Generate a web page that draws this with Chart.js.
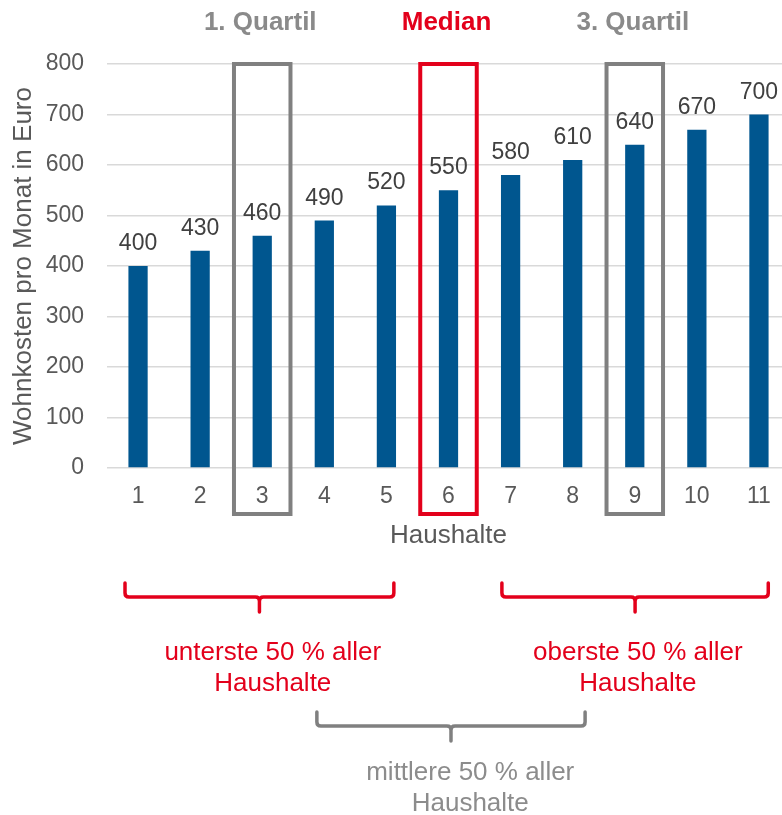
<!DOCTYPE html>
<html>
<head>
<meta charset="utf-8">
<script src="https://cdn.jsdelivr.net/npm/chart.js@4"></script>
<style>
  html, body { margin: 0; padding: 0; background: #fff; overflow: hidden; }
  #wrap { width: 782px; height: 815px; overflow: hidden; }
</style>
</head>
<body>
<div id="wrap"><canvas id="c" width="800" height="815"></canvas></div>
<script>
// Haushalte 1..11 and their monthly housing costs
const households = ['1', '2', '3', '4', '5', '6', '7', '8', '9', '10', '11'];
const costs = [400, 430, 460, 490, 520, 550, 580, 610, 640, 670, 700];
const yTicks = [0, 100, 200, 300, 400, 500, 600, 700, 800];

// highlighted households (index into households) with their heading
const markers = [
  { index: 2, label: '1. Quartil', color: '#808080', text: '#8a8a8a' },
  { index: 5, label: 'Median', color: '#e3001b', text: '#e3001b' },
  { index: 8, label: '3. Quartil', color: '#808080', text: '#8a8a8a' }
];

// curly brackets below the axis: span and caption anchor in category positions (0-based)
const brackets = [
  { from: -0.21, to: 4.12, textAt: 2.17, color: '#e3001b', lines: ['unterste 50 % aller', 'Haushalte'], row: 0 },
  { from: 5.86, to: 10.15, textAt: 8.05, color: '#e3001b', lines: ['oberste 50 % aller', 'Haushalte'], row: 0 },
  { from: 2.88, to: 7.20, textAt: 5.35, color: '#808080', lines: ['mittlere 50 % aller', 'Haushalte'], row: 1, textColor: '#8c8c8c' }
];

const FONT = 'Arial, "Liberation Sans", Helvetica, sans-serif';

const valueLabels = {
  id: 'valueLabels',
  afterDatasetsDraw(chart) {
    const ctx = chart.ctx;
    const meta = chart.getDatasetMeta(0);
    ctx.save();
    ctx.font = '23px ' + FONT;
    ctx.fillStyle = '#404040';
    ctx.textAlign = 'center';
    ctx.textBaseline = 'alphabetic';
    meta.data.forEach((bar, i) => {
      ctx.fillText(String(costs[i]), bar.x, bar.y - 16);
    });
    ctx.restore();
  }
};

const annotations = {
  id: 'annotations',
  afterDraw(chart) {
    const ctx = chart.ctx;
    const x = chart.scales.x, y = chart.scales.y;
    const step = x.getPixelForValue(1) - x.getPixelForValue(0);
    const area = chart.chartArea;
    ctx.save();

    // frames around the quartile / median households
    markers.forEach(m => {
      const cx = x.getPixelForValue(m.index);
      const half = step * 0.455;
      const top = y.getPixelForValue(800);
      const bottom = area.bottom + 46;
      ctx.strokeStyle = m.color;
      ctx.lineWidth = 4;
      ctx.strokeRect(cx - half, top, half * 2, bottom - top);
      ctx.font = 'bold 26px ' + FONT;
      ctx.fillStyle = m.text;
      ctx.textAlign = 'center';
      ctx.textBaseline = 'middle';
      ctx.fillText(m.label, cx - 2, 23);
    });

    // brackets with their captions
    brackets.forEach(b => {
      const x0 = x.getPixelForValue(b.from);
      const x1 = x.getPixelForValue(b.to);
      const mid = (x0 + x1) / 2;
      const top = b.row === 0 ? 583 : 712;
      const base = top + 14;
      const tip = base + 15;
      const r = 4;
      ctx.strokeStyle = b.color;
      ctx.lineWidth = 3.5;
      ctx.lineJoin = 'round';
      ctx.lineCap = 'round';
      ctx.beginPath();
      ctx.moveTo(x0, top);
      ctx.lineTo(x0, base - r);
      ctx.quadraticCurveTo(x0, base, x0 + r, base);
      ctx.lineTo(mid - r, base);
      ctx.quadraticCurveTo(mid, base, mid, base + r);
      ctx.lineTo(mid, tip);
      ctx.moveTo(mid, base + r);
      ctx.quadraticCurveTo(mid, base, mid + r, base);
      ctx.lineTo(x1 - r, base);
      ctx.quadraticCurveTo(x1, base, x1, base - r);
      ctx.lineTo(x1, top);
      ctx.stroke();

      ctx.font = '26px ' + FONT;
      ctx.fillStyle = b.textColor || b.color;
      ctx.textAlign = 'center';
      ctx.textBaseline = 'middle';
      const tx = x.getPixelForValue(b.textAt);
      const ty = b.row === 0 ? 653 : 773;
      b.lines.forEach((t, k) => ctx.fillText(t, tx, ty + k * 31));
    });
    ctx.restore();
  }
};

new Chart(document.getElementById('c'), {
  type: 'bar',
  data: {
    labels: households,
    datasets: [{
      data: costs,
      backgroundColor: '#00568f',
      borderWidth: 0,
      barPercentage: 0.62,
      categoryPercentage: 0.5
    }]
  },
  options: {
    responsive: false,
    animation: false,
    events: [],
    layout: { padding: { top: 64, right: 10, bottom: 264, left: 0 } },
    plugins: { legend: { display: false }, tooltip: { enabled: false } },
    scales: {
      x: {
        afterFit(scale) { scale.height = 83; },
        grid: { display: false, drawTicks: false },
        border: { display: false },
        ticks: { font: { family: FONT, size: 23 }, color: '#595959', padding: 15 },
        title: {
          display: true, text: 'Haushalte',
          font: { family: FONT, size: 26 }, color: '#595959',
          padding: { top: 9, bottom: 0 }
        }
      },
      y: {
        min: 0, max: 800,
        afterFit(scale) { scale.width = 107; },
        afterBuildTicks(scale) { scale.ticks = yTicks.map(v => ({ value: v })); },
        grid: { color: '#d9d9d9', lineWidth: 1.5, drawTicks: false },
        border: { display: false },
        ticks: { font: { family: FONT, size: 23 }, color: '#595959', padding: 23 },
        title: {
          display: true, text: 'Wohnkosten pro Monat in Euro',
          font: { family: FONT, size: 26 }, color: '#595959',
          padding: { top: 8, bottom: 2 }
        }
      }
    }
  },
  plugins: [valueLabels, annotations]
});
</script>
</body>
</html>
